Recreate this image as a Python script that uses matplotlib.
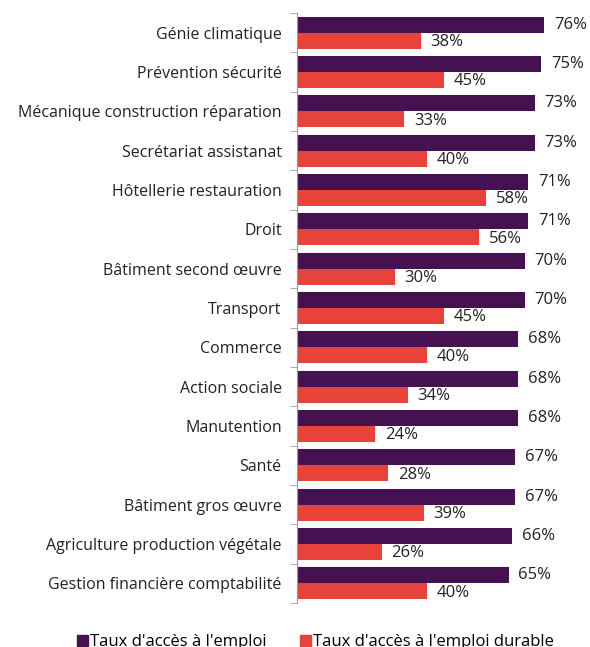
import matplotlib
matplotlib.use("Agg")
import matplotlib.pyplot as plt
import numpy as np
from matplotlib.patches import Patch

plt.rcParams['font.family'] = ['Open Sans', 'DejaVu Sans']

categories = ["Génie climatique", "Prévention sécurité", "Mécanique construction réparation",
              "Secrétariat assistanat", "Hôtellerie restauration", "Droit",
              "Bâtiment second œuvre", "Transport", "Commerce", "Action sociale",
              "Manutention", "Santé", "Bâtiment gros œuvre",
              "Agriculture production végétale", "Gestion financière comptabilité"]
acces_emploi = [76, 75, 73, 73, 71, 71, 70, 70, 68, 68, 68, 67, 67, 66, 65]
acces_durable = [38, 45, 33, 40, 58, 56, 30, 45, 40, 34, 24, 28, 39, 26, 40]
series_names = ["Taux d'accès à l'emploi", "Taux d'accès à l'emploi durable"]
colors = ["#461151", "#E8433B"]

W, H = 590, 647
fig = plt.figure(figsize=(W/100, H/100), dpi=100)
ax = fig.add_axes([297/W, 1-603/H, (W-297)/W, 590/H])

n = len(categories)
y = np.arange(n)
bh = 0.41
ax.barh(y - bh/2, acces_emploi, height=bh, color=colors[0])
ax.barh(y + bh/2, acces_durable, height=bh, color=colors[1])

for yi, v in zip(y, acces_emploi):
    ax.text(v + 3, yi - bh/2, f"{v}%", va='center', ha='left', fontsize=12, color='#222222')
for yi, v in zip(y, acces_durable):
    ax.text(v + 3, yi + bh/2 + 0.03, f"{v}%", va='center', ha='left', fontsize=12, color='#222222')

ax.set_ylim(n - 0.5, -0.5)
ax.set_xlim(0, 90)
ax.set_yticks(y)
ax.set_yticklabels(categories, fontsize=11.5, color='#222222')
ax.set_yticks(np.arange(-0.5, n, 1), minor=True)
ax.tick_params(axis='y', which='major', length=0, pad=11)
ax.tick_params(axis='y', which='minor', length=5, color='#999999', direction='out')
ax.set_xticks([])
for s in ['top', 'right', 'bottom']:
    ax.spines[s].set_visible(False)
ax.spines['left'].set_color('#999999')

handles = [Patch(color=colors[0], label=series_names[0]),
           Patch(color=colors[1], label=series_names[1])]
fig.legend(handles=handles, loc='center', bbox_to_anchor=(0.535, 1-642/H), ncol=2,
           frameon=False, fontsize=12, handlelength=0.65, handleheight=0.65,
           handletextpad=0.15, columnspacing=2.0)

fig.savefig("out.png", dpi=100)
